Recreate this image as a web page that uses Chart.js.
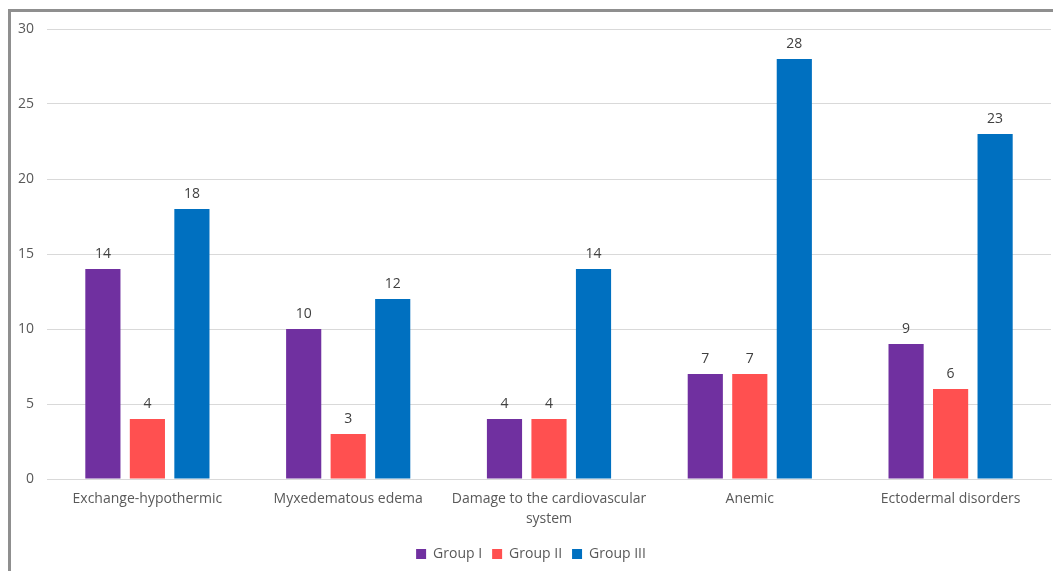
<!DOCTYPE html>
<html>
<head>
<meta charset="utf-8">
<script src="https://cdn.jsdelivr.net/npm/chart.js@4"></script>
<style>
  html, body { margin: 0; padding: 0; background: #fff; }
  #frame {
    position: absolute; left: 8px; top: 9px;
    width: 1045px; height: 562px;
    border-top: 3px solid #8f8f8f; border-left: 3px solid #8f8f8f;
    box-sizing: border-box;
  }
  #chart { position: absolute; left: 0; top: 0; }
</style>
</head>
<body>
<div id="frame"><canvas id="chart" width="1042" height="559"></canvas></div>
<script>
// categories and values
const categories = [
    'Exchange-hypothermic',
    'Myxedematous edema',
    ['Damage to the cardiovascular', 'system'],
    'Anemic',
    'Ectodermal disorders'
];
const groupI = [14, 10, 4, 7, 9];
const groupII = [4, 3, 4, 7, 6];
const groupIII = [18, 12, 14, 28, 23];
const yTicks = [0, 5, 10, 15, 20, 25, 30];

const textFont = '"Open Sans", "DejaVu Sans", sans-serif';

// draw value above each bar
const valueLabels = {
    id: 'valueLabels',
    afterDatasetsDraw(chart) {
        const ctx = chart.ctx;
        ctx.save();
        ctx.font = '14px ' + textFont;
        ctx.fillStyle = '#404040';
        ctx.textAlign = 'center';
        ctx.textBaseline = 'middle';
        chart.data.datasets.forEach((ds, i) => {
            chart.getDatasetMeta(i).data.forEach((bar, j) => {
                ctx.fillText(ds.data[j], bar.x, bar.y - 15);
            });
        });
        ctx.restore();
    }
};

new Chart(document.getElementById('chart'), {
    type: 'bar',
    data: {
        labels: categories,
        datasets: [
            { label: 'Group I', data: groupI, backgroundColor: '#7030a0' },
            { label: 'Group II', data: groupII, backgroundColor: '#ff5050' },
            { label: 'Group III', data: groupIII, backgroundColor: '#0070c0' }
        ]
    },
    options: {
        responsive: false,
        animation: false,
        layout: { padding: { top: 17, right: 2, bottom: 0, left: 0 } },
        datasets: {
            bar: { categoryPercentage: 0.665, barPercentage: 0.79 }
        },
        plugins: {
            legend: {
                position: 'bottom',
                labels: {
                    boxWidth: 10, boxHeight: 10, padding: 10,
                    color: '#595959',
                    font: { family: textFont, size: 14 }
                }
            },
            tooltip: { enabled: false }
        },
        scales: {
            x: {
                grid: { display: false, drawTicks: false },
                border: { display: true, color: '#d9d9d9' },
                ticks: {
                    color: '#595959', padding: 10, maxRotation: 0,
                    font: { family: textFont, size: 14, lineHeight: 1.45 }
                },
                afterFit(scale) {
                    scale.height = 58;
                    scale.paddingLeft = 0;
                    scale.paddingRight = 0;
                }
            },
            y: {
                min: 0, max: 30,
                afterBuildTicks(scale) { scale.ticks = yTicks.map(v => ({ value: v })); },
                grid: { color: '#d9d9d9', drawTicks: false },
                border: { display: false },
                ticks: {
                    color: '#595959', padding: 13,
                    font: { family: textFont, size: 14 }
                },
                afterFit(scale) {
                    scale.width = 36;
                    scale.paddingTop = 0;
                    scale.paddingBottom = 0;
                }
            }
        }
    },
    plugins: [valueLabels]
});
</script>
</body>
</html>
